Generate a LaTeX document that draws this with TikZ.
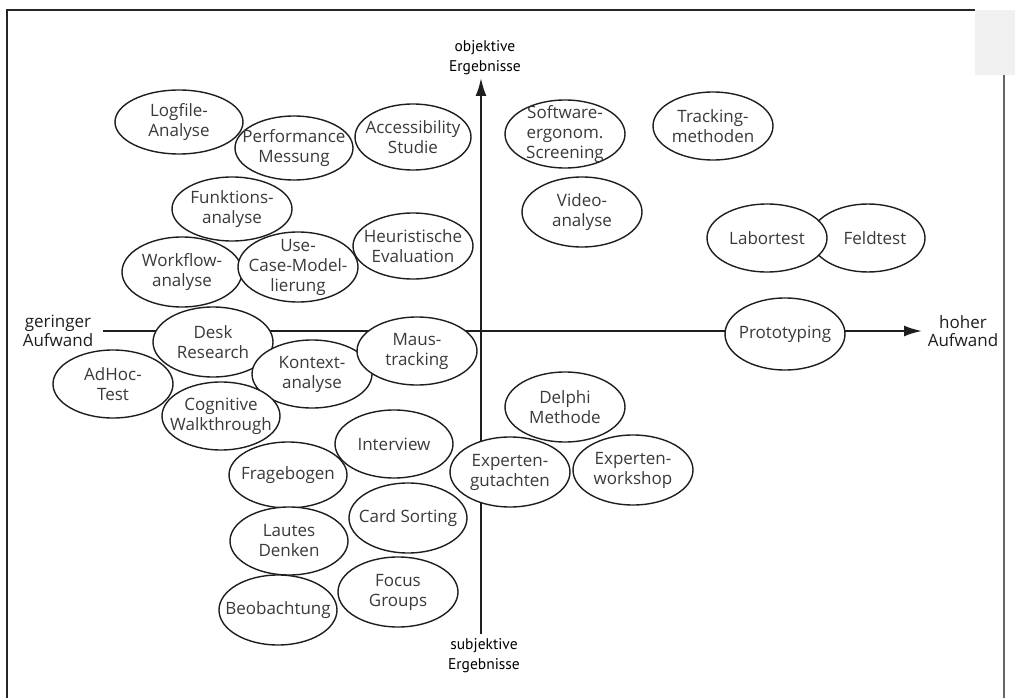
\documentclass[tikz,border=0pt]{standalone}
\usepackage{fontspec}
\setmainfont{Open Sans}
\newfontfamily\axisfont{PT Sans}
\usetikzlibrary{shapes.geometric,arrows.meta}
\definecolor{txt}{HTML}{3A3A3A}
\definecolor{ink}{HTML}{1E1E1E}
\tikzset{
  meth/.style={ellipse, draw=ink, line width=1.4pt, fill=white, inner sep=0pt},
  methtext/.style={align=center, text=txt, inner sep=0pt, font=\fontsize{17}{20}\selectfont},
  axisline/.style={draw=ink, line width=2pt},
  hlabel/.style={align=center, text=ink, font=\fontsize{17}{18.5}\selectfont},
  vlabel/.style={align=center, text=black, font=\axisfont\fontsize{15.5}{20}\selectfont},
  framel/.style={draw=black!85, line width=1.2pt}
}
\newcommand{\meth}[6]{\node[meth, minimum width=#4pt, minimum height=#5pt,
  label={[methtext]center:{#6}}] (#1) at (#2,#3) {};}
\begin{document}
\begin{tikzpicture}[x=1pt,y=-1pt]
\useasboundingbox (0,0) rectangle (1015,698);
% frame
\fill[black!6] (975,10) rectangle (1015,75);
\draw[framel] (7,698) -- (7,10) -- (975,10);
\draw[draw=black!60, line width=1.2pt] (1004,75) -- (1004,698);
% axes
\coordinate (hL) at (103,331);
\coordinate (hR) at (922,331);
\coordinate (vB) at (481,634);
\coordinate (vT) at (481,78);
\draw[axisline, -{Latex[length=18pt,width=11pt]}] (hL) -- (hR);
\draw[axisline, -{Latex[length=18pt,width=11pt]}] (vB) -- (vT);
\node[hlabel] (gering) at (58,331) {geringer\\Aufwand};
\node[hlabel] (hoch) at (963,331) {hoher\\Aufwand};
\node[vlabel] (obj) at (485,58) {objektive\\Ergebnisse};
\node[vlabel] (subj) at (484,656) {subjektive\\Ergebnisse};
% methods
\meth{logfile}{179}{122}{128}{64}{Logfile-\\Analyse}
\meth{perf}{294}{148}{118}{64}{Performance\\Messung}
\meth{access}{413}{137}{116}{66}{Accessibility\\Studie}
\meth{funk}{232}{209}{120}{64}{Funktions-\\analyse}
\meth{workflow}{182}{272}{120}{70}{Workflow-\\analyse}
\meth{usecase}{298}{267}{120}{70}{Use-\\Case-Model-\\lierung}
\meth{heur}{413}{246}{120}{66}{Heuristische\\Evaluation}
\meth{software}{565}{134}{120}{68}{Software-\\ergonom.\\Screening}
\meth{tracking}{713}{126}{120}{68}{Tracking-\\methoden}
\meth{video}{582}{212}{120}{70}{Video-\\analyse}
\meth{feld}{868}{238}{114}{68}{\hspace*{14pt}Feldtest}
\meth{labor}{767}{238}{120}{68}{Labortest}
\meth{desk}{213}{342}{120}{70}{Desk\\Research}
\meth{adhoc}{113}{384}{120}{68}{AdHoc-\\Test}
\meth{kontext}{312}{374}{120}{68}{Kontext-\\analyse}
\meth{maus}{417}{351}{120}{68}{Maus-\\tracking}
\meth{cogn}{221}{416}{118}{68}{Cognitive\\Walkthrough}
\meth{proto}{785}{334}{120}{72}{Prototyping}
\meth{delphi}{565}{407}{120}{70}{Delphi\\Methode}
\meth{expgut}{510}{472}{120}{70}{Experten-\\gutachten}
\meth{expwork}{633}{470}{120}{70}{Experten-\\workshop}
\meth{interview}{394}{444}{118}{68}{Interview}
\meth{frage}{288}{475}{118}{66}{Fragebogen}
\meth{card}{408}{518}{118}{70}{Card Sorting}
\meth{lautes}{289}{541}{118}{68}{Lautes\\Denken}
\meth{focus}{398}{592}{120}{70}{Focus\\Groups}
\meth{beob}{278}{610}{118}{70}{Beobachtung}
\end{tikzpicture}
\end{document}
